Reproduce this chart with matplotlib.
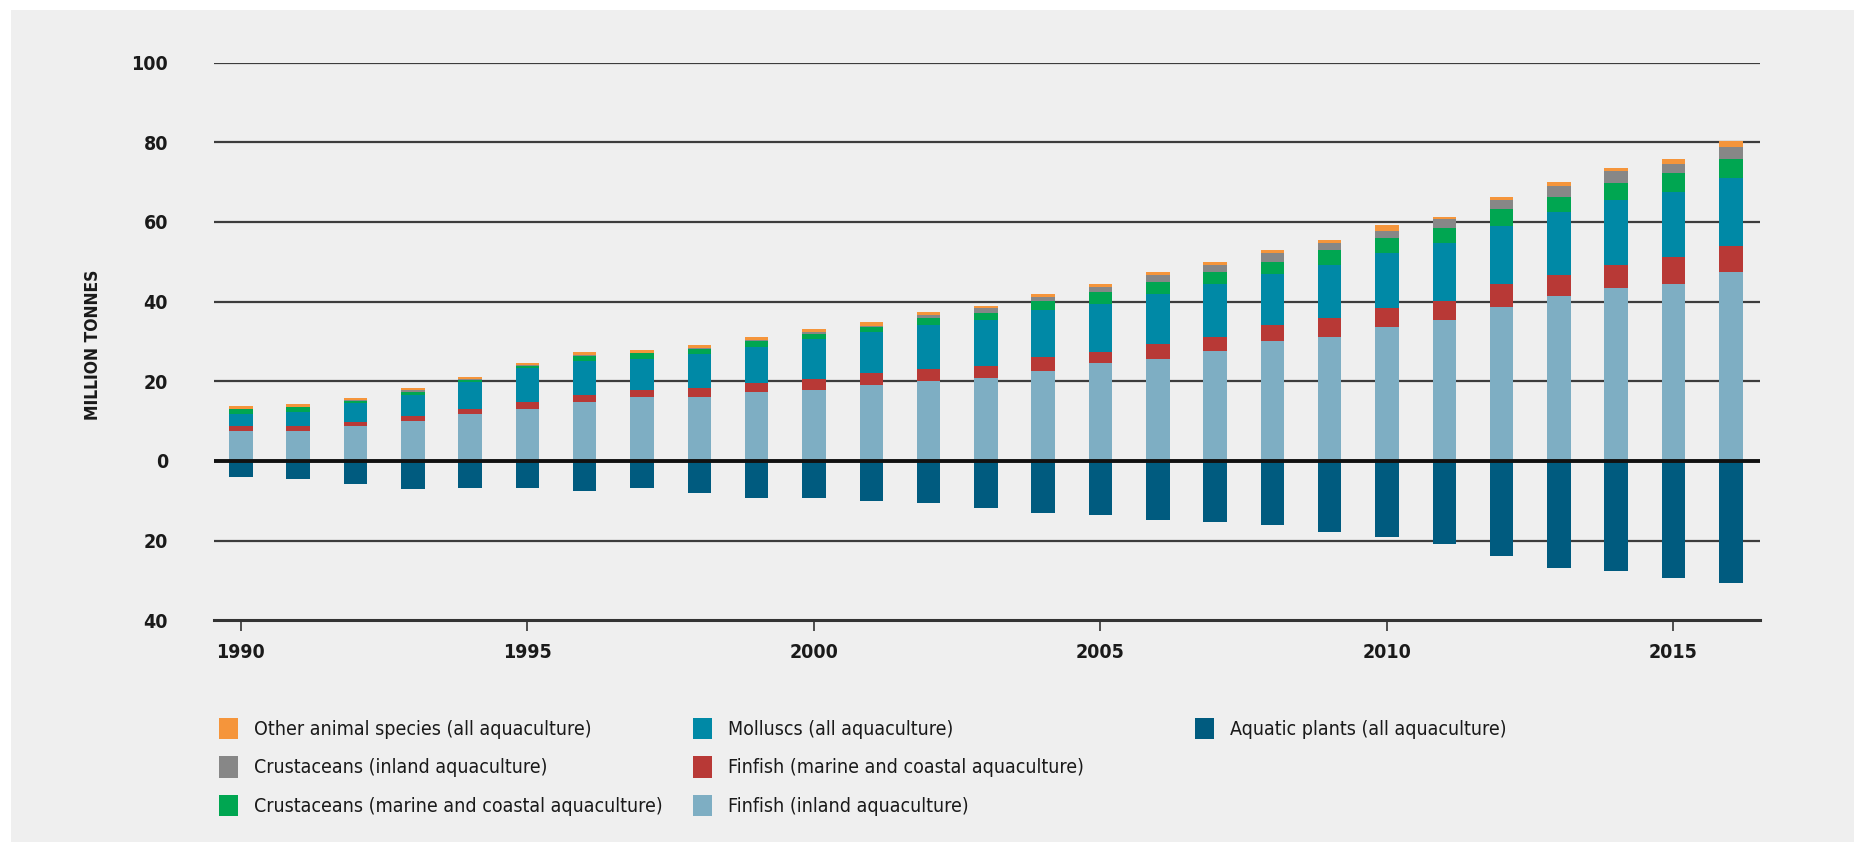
import matplotlib
matplotlib.use("Agg")
import matplotlib.pyplot as plt
from matplotlib.patches import Patch, Rectangle
from matplotlib.ticker import FuncFormatter
from matplotlib import font_manager as fm

years = list(range(1990, 2017))

finfish_inland = [7.6, 7.5, 8.9, 10.1, 11.8, 13.0, 14.8, 16.0, 16.0, 17.2, 17.8, 19.1, 20.2, 20.8,
                  22.7, 24.5, 25.7, 27.5, 30.0, 31.0, 33.6, 35.4, 38.6, 41.4, 43.3, 44.4, 47.5]
finfish_marine = [1.2, 1.25, 1.0, 1.2, 1.2, 1.9, 1.8, 1.8, 2.4, 2.4, 2.9, 3.1, 3.0, 3.1,
                  3.5, 2.9, 3.6, 3.5, 4.2, 4.9, 4.8, 4.75, 5.8, 5.4, 6.0, 6.7, 6.5]
molluscs = [3.0, 3.6, 4.6, 5.3, 6.8, 8.4, 8.6, 7.9, 8.5, 9.0, 9.9, 10.2, 11.0, 11.5,
            11.7, 12.1, 12.6, 13.5, 12.7, 13.4, 13.8, 14.5, 14.5, 15.7, 16.3, 16.3, 17.0]
crust_marine = [1.2, 1.1, 0.5, 0.7, 0.6, 0.6, 1.2, 1.3, 1.25, 1.4, 1.3, 1.2, 1.7, 1.8,
                2.3, 2.9, 2.9, 3.0, 3.0, 3.6, 3.8, 3.8, 4.3, 3.7, 4.1, 4.8, 4.9]
crust_inland = [0.1, 0.1, 0.2, 0.4, 0.1, 0.1, 0.1, 0.1, 0.1, 0.3, 0.4, 0.4, 0.7, 1.1,
                1.0, 1.3, 2.0, 1.8, 2.4, 1.8, 1.8, 2.2, 2.4, 2.9, 3.0, 2.4, 3.0]
other_animals = [0.8, 0.8, 0.6, 0.7, 0.6, 0.6, 0.8, 0.75, 0.75, 0.8, 0.8, 0.8, 0.75, 0.7,
                 0.8, 0.7, 0.7, 0.7, 0.7, 0.8, 1.3, 0.7, 0.7, 0.9, 0.9, 1.3, 1.3]
aquatic_plants = [3.9, 4.6, 5.8, 7.0, 6.9, 6.9, 7.5, 6.9, 8.1, 9.4, 9.4, 10.0, 10.6, 11.9,
                  13.1, 13.6, 14.8, 15.4, 16.1, 17.9, 19.0, 20.9, 23.9, 26.9, 27.6, 29.4, 30.7]

x_ticks = [1990, 1995, 2000, 2005, 2010, 2015]
y_ticks = [-40, -20, 0, 20, 40, 60, 80, 100]

labels = {
    "other": "Other animal species (all aquaculture)",
    "crust_inland": "Crustaceans (inland aquaculture)",
    "crust_marine": "Crustaceans (marine and coastal aquaculture)",
    "molluscs": "Molluscs (all aquaculture)",
    "fin_marine": "Finfish (marine and coastal aquaculture)",
    "fin_inland": "Finfish (inland aquaculture)",
    "plants": "Aquatic plants (all aquaculture)",
}
colors = {
    "other": "#f5953b",
    "crust_inland": "#878787",
    "crust_marine": "#00a651",
    "molluscs": "#0089a6",
    "fin_marine": "#b83936",
    "fin_inland": "#7eaec3",
    "plants": "#005b7f",
}

names = {f.name for f in fm.fontManager.ttflist}
dejavu_cond = any(f.name == "DejaVu Sans" and "ondensed" in str(f.stretch) + f.fname for f in fm.fontManager.ttflist)
if "Liberation Sans Narrow" in names:
    FAM = ["Liberation Sans Narrow", "DejaVu Sans"]
    STRETCH = "normal"
else:
    FAM = ["DejaVu Sans"]
    STRETCH = "condensed" if dejavu_cond else "normal"
plt.rcParams["font.family"] = FAM
plt.rcParams["font.stretch"] = STRETCH

W, H = 1865, 851
fig = plt.figure(figsize=(W / 100, H / 100), dpi=100, facecolor="white")
fig.add_artist(Rectangle((11 / W, 9 / H), (W - 22) / W, (H - 19) / H,
                         transform=fig.transFigure, facecolor="#efefef", edgecolor="none", zorder=-10))

ax = fig.add_axes([214 / W, (H - 620.4) / H, 1546 / W, 557.9 / H])
ax.set_facecolor("none")
ax.set_xlim(1989.53, 2016.51)
ax.set_ylim(-40, 100)

bw = 0.41
bottom = [0.0] * len(years)
for key, vals in [("fin_inland", finfish_inland), ("fin_marine", finfish_marine),
                  ("molluscs", molluscs), ("crust_marine", crust_marine),
                  ("crust_inland", crust_inland), ("other", other_animals)]:
    ax.bar(years, vals, bw, bottom=bottom, color=colors[key], zorder=2, linewidth=0)
    bottom = [b + v for b, v in zip(bottom, vals)]
ax.bar(years, [-v for v in aquatic_plants], bw, color=colors["plants"], zorder=2, linewidth=0)

for yv in [-20, 20, 40, 60, 80, 100]:
    ax.axhline(yv, color="#3c3c3c", lw=1.6, zorder=1)
ax.axhline(0, color="#111111", lw=2.8, zorder=5)

for s in ["top", "right", "left"]:
    ax.spines[s].set_visible(False)
ax.spines["bottom"].set_color("#333333")
ax.spines["bottom"].set_linewidth(2.2)

ax.set_xticks(x_ticks)
ax.set_yticks(y_ticks)
ax.yaxis.set_major_formatter(FuncFormatter(lambda v, p: f"{abs(int(v))}"))
ax.tick_params(axis="y", length=0, pad=33, labelsize=14, labelcolor="#1a1a1a")
ax.tick_params(axis="x", length=8, width=1.2, color="#333333", pad=8, labelsize=14, labelcolor="#1a1a1a")
for t in ax.get_xticklabels() + ax.get_yticklabels():
    t.set_fontweight("bold")

fig.text(93 / W, (H - 345) / H, "MILLION TONNES", rotation=90, ha="center", va="center",
         fontsize=12.5, fontweight="bold", color="#1a1a1a")

cols = [
    (["other", "crust_inland", "crust_marine"], 219),
    (["molluscs", "fin_marine", "fin_inland"], 693),
    (["plants"], 1195),
]
for keys, xpx in cols:
    handles = [Patch(facecolor=colors[k], edgecolor="none", label=labels[k]) for k in keys]
    fig.legend(handles=handles, loc="upper left", bbox_to_anchor=(xpx / W, (H - 718) / H),
               frameon=False, fontsize=14, handlelength=1.0, handleheight=1.3,
               handletextpad=0.8, labelspacing=0.88, borderpad=0, borderaxespad=0,
               labelcolor="#1a1a1a")

fig.savefig("out.png", dpi=100, facecolor="white")
